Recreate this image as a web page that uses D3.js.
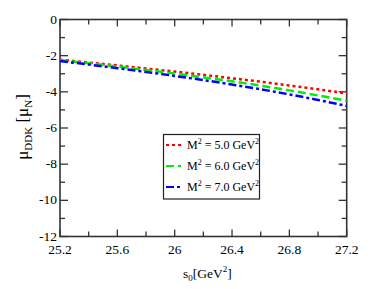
<!DOCTYPE html>
<html><head><meta charset="utf-8">
<script src="https://cdn.jsdelivr.net/npm/d3@7"></script>
<style>body{margin:0;background:#fff}svg{display:block}svg text{font-family:"Liberation Serif"!important}</style>
</head><body><svg id="c" width="374" height="289"></svg>
<script>
const s0 = [25.2,25.4,25.6,25.8,26.0,26.2,26.4,26.6,26.8,27.0,27.2];
const muM5 = [-2.22,-2.38,-2.54,-2.71,-2.88,-3.06,-3.25,-3.44,-3.65,-3.86,-4.09];
const muM6 = [-2.25,-2.42,-2.60,-2.79,-2.99,-3.20,-3.42,-3.66,-3.92,-4.20,-4.50];
const muM7 = [-2.30,-2.49,-2.69,-2.90,-3.12,-3.35,-3.60,-3.86,-4.14,-4.45,-4.78];
const seriesLabels = ["5.0","6.0","7.0"];
const xTicks = [25.2,25.6,26.0,26.4,26.8,27.2];
const xTickLabels = ["25.2","25.6","26","26.4","26.8","27.2"];
const yTicks = [0,-2,-4,-6,-8,-10,-12];

const svg = d3.select("#c");
const L=60,R=346.7,T=19.5,B=236.5;
const x = d3.scaleLinear().domain([25.2,27.2]).range([L,R]);
const y = d3.scaleLinear().domain([-12,0]).range([B,T]);
const axCol = "#333";

svg.append("rect").attr("x",L).attr("y",T).attr("width",R-L).attr("height",B-T)
  .attr("fill","none").attr("stroke",axCol).attr("stroke-width",1.6);

const xMinor = d3.range(25.2,27.21,0.2);
const yMinor = d3.range(-12,0.01,1);
const tk = svg.append("g").attr("stroke",axCol).attr("stroke-width",1.3);
xMinor.forEach((v,i)=>{
  const len = (i%2===0)?7:5;
  tk.append("line").attr("x1",x(v)).attr("x2",x(v)).attr("y1",B).attr("y2",B-len);
  tk.append("line").attr("x1",x(v)).attr("x2",x(v)).attr("y1",T).attr("y2",T+len);
});
yMinor.forEach((v,i)=>{
  const len = (i%2===0)?8:5;
  tk.append("line").attr("y1",y(v)).attr("y2",y(v)).attr("x1",L).attr("x2",L+len);
  tk.append("line").attr("y1",y(v)).attr("y2",y(v)).attr("x1",R).attr("x2",R-len);
});

xTicks.forEach((v,i)=>{
  svg.append("text").attr("x",x(v)).attr("y",B+17).attr("text-anchor","middle")
    .attr("font-size",13.5).text(xTickLabels[i]);
});
yTicks.forEach(v=>{
  svg.append("text").attr("x",L-3).attr("y",y(v)+4).attr("text-anchor","end")
    .attr("font-size",13.5).text(v);
});

const xt = svg.append("text").attr("x",(L+R)/2+4).attr("y",278).attr("text-anchor","middle").attr("font-size",13.5);
xt.append("tspan").text("s");
xt.append("tspan").attr("font-size",9).attr("dy",3).text("0");
xt.append("tspan").attr("dy",-3).text("[GeV");
xt.append("tspan").attr("font-size",9).attr("dy",-6).text("2");
xt.append("tspan").attr("dy",6).text("]");

const yt = svg.append("text").attr("transform","translate(28,127) rotate(-90)").attr("text-anchor","middle").attr("font-size",17);
yt.append("tspan").text("μ");
yt.append("tspan").attr("font-size",11).attr("dy",4).text("DDK");
yt.append("tspan").attr("dy",-4).text(" [μ");
yt.append("tspan").attr("font-size",11).attr("dy",4).text("N");
yt.append("tspan").attr("dy",-4).text("]");

const series = [
  {vals:muM5,color:"#ff0000",dash:"3,3"},
  {vals:muM6,color:"#00ee00",dash:"8,4"},
  {vals:muM7,color:"#0000ff",dash:"8,3,3,3"}
];
const line = d3.line().x(d=>x(d[0])).y(d=>y(d[1])).curve(d3.curveMonotoneX);
series.forEach(s=>{
  svg.append("path").datum(s0.map((v,i)=>[v,s.vals[i]]))
    .attr("d",line).attr("fill","none").attr("stroke",s.color)
    .attr("stroke-width",2.5).attr("stroke-dasharray",s.dash);
});

const lg = svg.append("g");
lg.append("rect").attr("x",163.5).attr("y",134.5).attr("width",96).attr("height",64.5)
  .attr("fill","#fff").attr("stroke","#222").attr("stroke-width",1.2);
const ly = [145,166,187];
series.forEach((s,i)=>{
  lg.append("line").attr("x1",166).attr("x2",181).attr("y1",ly[i]).attr("y2",ly[i])
    .attr("stroke",s.color).attr("stroke-width",2).attr("stroke-dasharray",s.dash);
  const t = lg.append("text").attr("x",187).attr("y",ly[i]+4).attr("font-size",12);
  t.append("tspan").text("M");
  t.append("tspan").attr("font-size",8).attr("dy",-5).text("2");
  t.append("tspan").attr("dy",5).text(" = "+seriesLabels[i]+" GeV");
  t.append("tspan").attr("font-size",8).attr("dy",-5).text("2");
});
</script></body></html>
